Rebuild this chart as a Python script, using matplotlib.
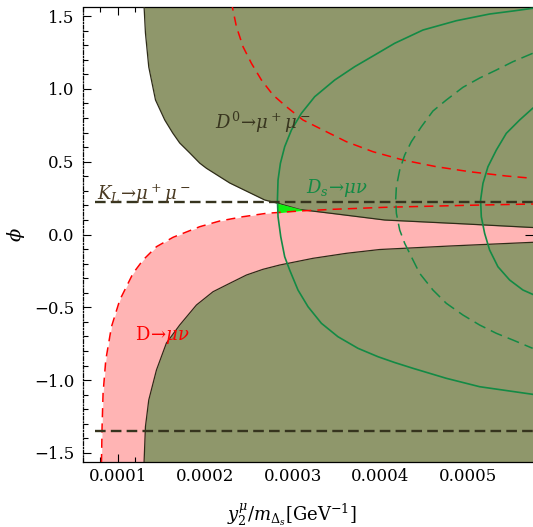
import matplotlib
matplotlib.use("Agg")
import matplotlib.pyplot as plt
from matplotlib.ticker import MultipleLocator

plt.rcParams['font.family'] = ['DejaVu Serif']
plt.rcParams['mathtext.fontset'] = 'dejavuserif'

# D0 -> mu+ mu- excluded region, upper and lower boundaries
up_x = [1.298e-4, 1.314e-4, 1.352e-4, 1.429e-4, 1.535e-4, 1.626e-4, 1.706e-4, 1.821e-4,
        1.935e-4, 2.011e-4, 2.278e-4, 2.678e-4, 2.830e-4, 3.078e-4, 3.455e-4, 4.049e-4,
        4.983e-4, 5.741e-4, 6.0e-4]
up_phi = [1.57, 1.3839, 1.1504, 0.9238, 0.7864, 0.6971, 0.6284, 0.560,
          0.490, 0.455, 0.3537, 0.2370, 0.2143, 0.1717, 0.1442, 0.0996,
          0.0721, 0.0481, 0.046]

lo_x = [1.298e-4, 1.314e-4, 1.352e-4, 1.440e-4, 1.554e-4, 1.706e-4, 1.897e-4, 2.087e-4,
        2.278e-4, 2.469e-4, 2.658e-4, 2.849e-4, 3.230e-4, 3.611e-4, 3.992e-4, 4.792e-4,
        5.741e-4, 6.0e-4]
lo_phi = [-1.57, -1.3201, -1.1367, -0.9306, -0.7452, -0.6216, -0.4842, -0.3929,
          -0.3352, -0.2782, -0.2390, -0.2095, -0.1635, -0.1291, -0.1030, -0.0790,
          -0.0536, -0.050]

# D -> mu nu boundaries
dmunu_lo_x = [0.8114e-4, 0.8183e-4, 0.8297e-4, 0.8606e-4, 0.9257e-4, 1.0206e-4, 1.1726e-4,
              1.2869e-4, 1.44e-4, 1.6297e-4, 1.9349e-4, 2.1634e-4, 2.4297e-4, 2.6971e-4,
              3.0777e-4, 3.4583e-4, 4.049e-4, 4.983e-4, 5.741e-4, 6.0e-4]
dmunu_lo_phi = [-1.57, -1.3201, -1.0907, -0.8620, -0.6332, -0.4499, -0.2665,
                -0.1751, -0.0838, -0.0192, 0.0536, 0.0927, 0.1223, 0.1456,
                0.1614, 0.1731, 0.1868, 0.2005, 0.2095, 0.212]

dmunu_up_x = [2.30e-4, 2.3086e-4, 2.3543e-4, 2.4297e-4, 2.5257e-4, 2.64e-4, 2.7726e-4, 2.9257e-4,
              3.1154e-4, 3.344e-4, 3.6114e-4, 3.9154e-4, 4.2583e-4, 4.64e-4, 5.0206e-4,
              5.44e-4, 5.741e-4]
dmunu_up_phi = [1.60, 1.5604, 1.4272, 1.2898, 1.1758, 1.0611, 0.9581, 0.8777,
                0.7864, 0.7177, 0.6374, 0.5687, 0.5117, 0.4657, 0.4313,
                0.4018, 0.3860]

# Ds -> mu nu contours
ds_outer_x = [5.741e-4, 5.515e-4, 5.249e-4, 4.869e-4, 4.487e-4, 4.163e-4, 3.935e-4, 3.706e-4,
              3.478e-4, 3.249e-4, 3.097e-4, 2.983e-4, 2.906e-4, 2.857e-4, 2.830e-4, 2.823e-4,
              2.830e-4, 2.861e-4, 2.906e-4, 2.963e-4, 3.058e-4, 3.173e-4, 3.326e-4, 3.515e-4,
              3.744e-4, 3.973e-4, 4.163e-4, 4.373e-4, 4.754e-4, 5.135e-4, 5.741e-4]
ds_outer_phi = [1.5536, 1.5350, 1.5144, 1.4684, 1.4045, 1.3132, 1.2328, 1.1525,
                1.0611, 0.9464, 0.8324, 0.7177, 0.6030, 0.4890, 0.3743, 0.2370,
                0.1223, -0.0151, -0.1525, -0.2438, -0.3812, -0.4959, -0.6099, -0.7019,
                -0.7816, -0.8393, -0.8791, -0.9190, -0.9876, -1.0453, -1.0975]

ds_dash_x = [5.741e-4, 5.515e-4, 5.326e-4, 5.135e-4, 4.944e-4, 4.754e-4, 4.601e-4, 4.469e-4,
             4.354e-4, 4.278e-4, 4.221e-4, 4.183e-4, 4.175e-4, 4.183e-4, 4.221e-4, 4.278e-4,
             4.354e-4, 4.449e-4, 4.601e-4, 4.754e-4, 4.944e-4, 5.135e-4, 5.326e-4, 5.515e-4,
             5.741e-4]
ds_dash_phi = [1.2445, 1.1868, 1.1298, 1.0749, 1.0110, 0.9238, 0.8482, 0.7404,
               0.6374, 0.5460, 0.4430, 0.3283, 0.2370, 0.1456, 0.0309, -0.0604,
               -0.1525, -0.2665, -0.3812, -0.4725, -0.5529, -0.6216, -0.6786, -0.7246,
               -0.7816]

ds_inner_x = [5.741e-4, 5.592e-4, 5.440e-4, 5.326e-4, 5.230e-4, 5.173e-4, 5.146e-4, 5.154e-4,
              5.192e-4, 5.249e-4, 5.344e-4, 5.478e-4, 5.630e-4, 5.741e-4]
ds_inner_phi = [0.8668, 0.7864, 0.6951, 0.5804, 0.4657, 0.3516, 0.2370, 0.1223,
                0.0082, -0.1065, -0.2212, -0.3125, -0.3812, -0.4107]

# allowed corner (bright green)
allowed_x = [2.821e-4, 3.146e-4, 2.832e-4]
allowed_phi = [0.2129, 0.163, 0.1456]

# K_L -> mu mu bounds
kl_phi = [0.222, -1.347]
kl_xstart = 0.735e-4

xticks = [1e-4, 2e-4, 3e-4, 4e-4, 5e-4]
xticklabels = ["0.0001", "0.0002", "0.0003", "0.0004", "0.0005"]
yticks = [-1.5, -1.0, -0.5, 0.0, 0.5, 1.0, 1.5]
yticklabels = ["\u22121.5", "\u22121.0", "\u22120.5", "0.0", "0.5", "1.0", "1.5"]

olive = '#8f976b'
pink = '#ffb4b4'
edge = '#2e2c18'
green = '#138a45'
darkdash = '#36341e'

fig = plt.figure(figsize=(5.33, 5.27), dpi=100)
ax = fig.add_axes([0.1557, 0.1233, 0.8443, 0.8634])

ax.fill_between(dmunu_lo_x, -1.7, dmunu_lo_phi, color=pink, lw=0, zorder=1)
ax.fill_between(up_x, up_phi, 1.7, color=olive, lw=0, zorder=2)
ax.fill_between(lo_x, -1.7, lo_phi, color=olive, lw=0, zorder=2)
ax.plot(up_x, up_phi, color=edge, lw=0.9, zorder=3)
ax.plot(lo_x, lo_phi, color=edge, lw=0.9, zorder=3)
ax.fill(allowed_x, allowed_phi, color='#11ee11', lw=0, zorder=3)

ax.plot(dmunu_lo_x, dmunu_lo_phi, color='red', lw=1.1, ls=(0, (6, 4)), zorder=4)
ax.plot(dmunu_up_x, dmunu_up_phi, color='red', lw=1.1, ls=(0, (6, 4)), zorder=4)

ax.plot(ds_outer_x, ds_outer_phi, color=green, lw=1.2, zorder=5)
ax.plot(ds_inner_x, ds_inner_phi, color=green, lw=1.2, zorder=5)
ax.plot(ds_dash_x, ds_dash_phi, color=green, lw=1.1, ls=(0, (8, 4)), zorder=5)

for p in kl_phi:
    ax.plot([kl_xstart, 6e-4], [p, p], color=darkdash, lw=1.7, ls=(0, (4.5, 2.2)), zorder=6)

ax.text(2.106e-4, 0.7246, r"$D^0\!\rightarrow\!\mu^+\mu^-$", color='#38351f', fontsize=13, zorder=7)
ax.text(0.76e-4, 0.237, r"$K_L\!\rightarrow\!\mu^+\mu^-$", color='#4a3a22', fontsize=13, zorder=7)
ax.text(3.146e-4, 0.285, r"$D_s\!\rightarrow\!\mu\nu$", color=green, fontsize=13, zorder=7)
ax.text(1.192e-4, -0.7246, r"$\mathrm{D}\!\rightarrow\!\mu\nu$", color='red', fontsize=13, zorder=7)

ax.set_xlim(6e-5, 5.745e-4)
ax.set_ylim(-1.5625, 1.5625)
ax.set_xticks(xticks)
ax.set_xticklabels(xticklabels)
ax.set_yticks(yticks)
ax.set_yticklabels(yticklabels)
ax.xaxis.set_minor_locator(MultipleLocator(2e-5))
ax.yaxis.set_minor_locator(MultipleLocator(0.1))
ax.tick_params(which='both', direction='in', top=True, right=True, labelsize=12, width=0.8)
ax.tick_params(which='major', length=6)
ax.tick_params(which='minor', length=3.5)
ax.tick_params(axis='x', pad=4)
ax.tick_params(axis='y', pad=6)

ax.spines['right'].set_visible(False)
ax.spines['left'].set_linestyle((0, (3, 1.5, 0.8, 1.5)))
for s in ['left', 'top', 'bottom']:
    ax.spines[s].set_linewidth(0.9)
ax.spines['left'].set_zorder(8)

ax.set_xlabel(r"$y_2^{\mu}/m_{\Delta_s}$[GeV$^{-1}$]", fontsize=13)
ax.xaxis.set_label_coords(0.464, -0.088)
ax.set_ylabel(r"$\phi$", fontsize=14, rotation=90)
ax.yaxis.set_label_coords(-0.125, 0.5)

fig.savefig("out.png", dpi=100)
